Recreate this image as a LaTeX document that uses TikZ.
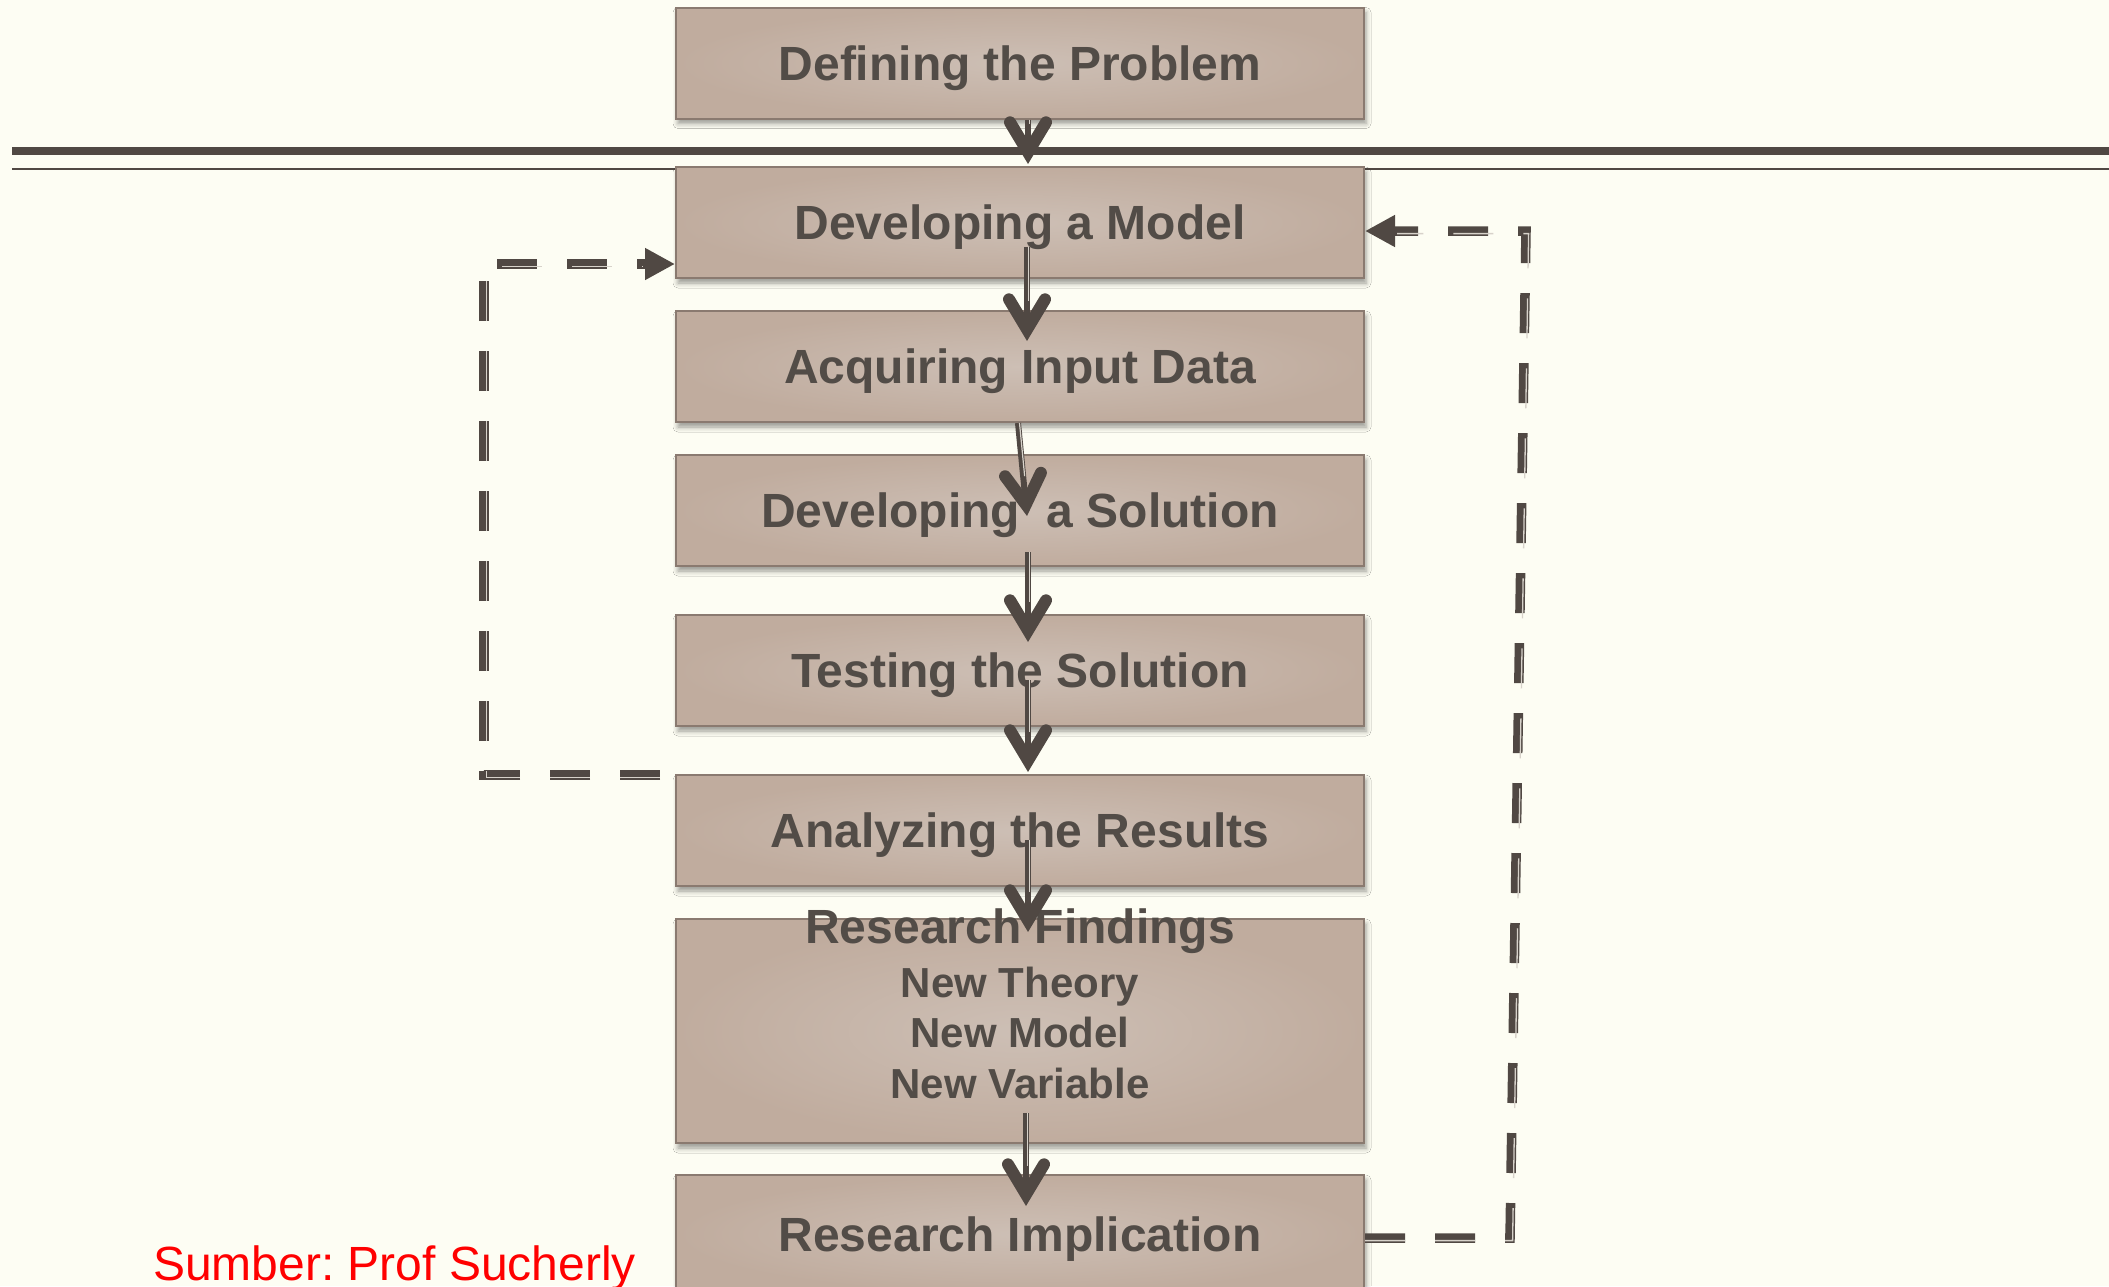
\documentclass[tikz,border=0pt]{standalone}
\usepackage{fontspec}
\setmainfont{Liberation Sans}
\usetikzlibrary{arrows.meta,calc,shadows.blur}
\definecolor{bg}{RGB}{253,253,243}
\definecolor{boxout}{RGB}{192,172,158}
\definecolor{boxin}{RGB}{205,191,181}
\definecolor{boxline}{RGB}{138,122,112}
\definecolor{ink}{RGB}{80,72,67}
\definecolor{inktext}{RGB}{82,76,71}
\definecolor{stripecol}{RGB}{215,210,202}
\begin{document}
\begin{tikzpicture}[x=1pt,y=-1pt,
  box/.style={draw=boxline, line width=2pt, shade, inner color=boxin, outer color=boxout,
    minimum width=688pt, minimum height=111pt, inner sep=0pt,
    text height=34pt, text depth=0pt, text=inktext,
    font=\fontsize{48}{58}\selectfont\bfseries,
    blur shadow={shadow xshift=2pt, shadow yshift=-5pt, shadow blur radius=5pt, shadow opacity=40}},
  title/.style={inner sep=0pt, text=inktext, font=\fontsize{48}{58}\selectfont\bfseries},
  sub/.style={inner sep=0pt, text=inktext, font=\fontsize{42}{50}\selectfont\bfseries},
  flow/.style={draw=ink, line width=6pt,
    -{Straight Barb[length=30pt,width=36pt,line width=12pt 0,line cap=round,line join=miter]}},
  shaftstripe/.style={draw=stripecol, line width=1.2pt, shorten >=40pt},
  loopline/.style={draw=ink, line width=9.5pt, line join=miter, dash pattern=on 40pt off 30pt},
  loopstripe/.style={draw=stripecol, line width=1.3pt, line join=miter, dash pattern=on 40pt off 30pt, shorten >=32pt},
  looptip/.style={-{Triangle[length=30pt,width=30pt]}},
  rulethick/.style={draw=ink, line width=8pt},
  rulethin/.style={draw=ink, line width=2.6pt},
  srcnote/.style={inner sep=0pt, text=red, font=\fontsize{48}{58}\selectfont}
]
\useasboundingbox (0,0) rectangle (2109,1286);
\fill[bg] (0,0) rectangle (2109,1286);
\clip (0,0) rectangle (2109,1286);

% horizontal rules
\coordinate (r1a) at (12,151);
\coordinate (r1b) at (2109,151);
\coordinate (r2a) at (12,169);
\coordinate (r2b) at (2109,169);
\draw[rulethick] (r1a) -- (r1b);
\draw[rulethin] (r2a) -- (r2b);

% boxes
\node[box] (b1) at (1020,63) {Defining the Problem};
\node[box] (b2) at (1020,222.5) {Developing a Model};
\node[box] (b3) at (1020,366.5) {Acquiring Input Data};
\node[box] (b4) at (1020,510.5) {Developing~ a Solution};
\node[box] (b5) at (1020,670.5) {Testing the Solution};
\node[box] (b6) at (1020,830.5) {Analyzing the Results};
\node[box, minimum height=224pt] (b7) at (1020,1031) {};
\node[box, minimum height=118pt] (b8) at (1020,1234) {Research Implication};

\node[title, anchor=base] (t7a) at (1020,943) {Research Findings};
\node[sub, anchor=base] (t7b) at (1020,997) {New Theory};
\node[sub, anchor=base] (t7c) at (1020,1047) {New Model};
\node[sub, anchor=base] (t7d) at (1020,1098) {New Variable};

% flow arrows
\draw[flow] ($(b1.south)+(8,0)$) -- ($(b2.north)+(8,-2)$);
\draw[shaftstripe] ($(b1.south)+(9.5,0)$) -- ($(b2.north)+(9.5,-2)$);
\draw[flow] ($(b2.center)+(7,24.5)$) -- ($(b3.north)+(7,31)$);
\draw[shaftstripe] ($(b2.center)+(8.5,24.5)$) -- ($(b3.north)+(8.5,31)$);
\draw[flow] ($(b3.south)+(-2,0)$) -- ($(b4.north)+(7,62)$);
\draw[shaftstripe] ($(b3.south)+(-0.5,0)$) -- ($(b4.north)+(8.5,62)$);
\draw[flow] ($(b4.center)+(8,41.5)$) -- ($(b5.north)+(8,28)$);
\draw[shaftstripe] ($(b4.center)+(9.5,41.5)$) -- ($(b5.north)+(9.5,28)$);
\draw[flow] ($(b5.center)+(8,9.5)$) -- ($(b6.north)+(8,-2)$);
\draw[shaftstripe] ($(b5.center)+(9.5,9.5)$) -- ($(b6.north)+(9.5,-2)$);
\draw[flow] ($(b6.center)+(8,9.5)$) -- ($(b7.north)+(8,14)$);
\draw[shaftstripe] ($(b6.center)+(9.5,9.5)$) -- ($(b7.north)+(9.5,14)$);
\draw[flow] ($(b7.south)+(6,-31)$) -- ($(b8.north)+(6,32)$);
\draw[shaftstripe] ($(b7.south)+(7.5,-31)$) -- ($(b8.north)+(7.5,32)$);

% left feedback loop
\coordinate (ls) at (660,775);
\coordinate (lc1) at (484,775);
\coordinate (lc2) at (484,264);
\draw[loopline, looptip] (ls) -- (lc1) -- (lc2) -- ($(b2.west)+(0,41.5)$);
\draw[loopstripe] ($(ls)+(0,2.6)$) -- ($(lc1)+(2.6,2.6)$) -- ($(lc2)+(2.6,2.6)$) -- ($(b2.west)+(0,44.1)$);

% right feedback loop
\coordinate (rc1) at (1510,1238);
\coordinate (rc2) at (1526,231);
\draw[loopline, looptip] ($(b8.east)+(0,4)$) -- (rc1) -- (rc2) -- ($(b2.east)+(0,8.5)$);
\draw[loopstripe] ($(b8.east)+(0,6.6)$) -- ($(rc1)+(2.6,2.6)$) -- ($(rc2)+(2.6,2.6)$) -- ($(b2.east)+(0,11.1)$);

% source note
\node[srcnote, anchor=base west] (src) at (153,1280) {Sumber:\ Prof Sucherly};
\end{tikzpicture}
\end{document}
